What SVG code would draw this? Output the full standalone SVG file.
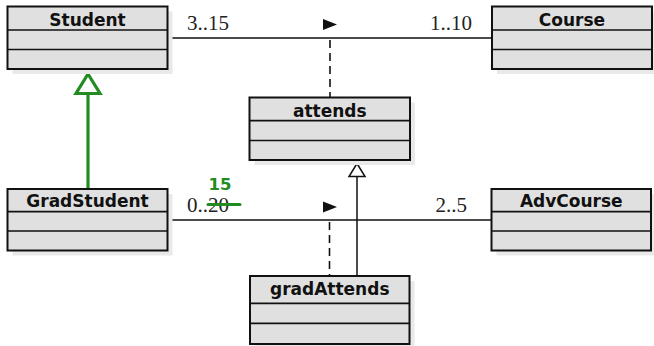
<svg xmlns="http://www.w3.org/2000/svg" width="654" height="346" viewBox="0 0 654 346">
<style>
.shadow{fill:#e9e9e9;stroke:none}
.box{fill:#e0e0e0;stroke:#111;stroke-width:2}
.div{stroke:#111;stroke-width:1.7}
.name{font-family:"DejaVu Sans",sans-serif;font-weight:bold;font-size:17px;text-anchor:middle;fill:#111}
.mult{font-family:"Liberation Serif","DejaVu Serif",serif;font-size:21px;fill:#222}
.line{stroke:#111;stroke-width:1.5;fill:none}
.dash{stroke:#111;stroke-width:1.6;fill:none;stroke-dasharray:8 5}
</style>
<g id="connectors">
  <line class="line" x1="167.5" y1="38" x2="492" y2="38"/>
  <line class="dash" x1="330" y1="40" x2="330" y2="97.5"/>
  <polygon points="323,19 337,24.5 323,30" fill="#111"/>
  <text class="mult" x="187" y="29.5">3..15</text>
  <text class="mult" x="472" y="29.5" text-anchor="end">1..10</text>

  <line class="line" x1="167.5" y1="220" x2="491.5" y2="220"/>
  <line class="dash" x1="329.5" y1="222" x2="329.5" y2="276"/>
  <polygon points="323,201.5 337,207 323,212.5" fill="#111"/>
  <text class="mult" x="187" y="211.5">0..20</text>
  <text class="mult" x="467" y="211.5" text-anchor="end">2..5</text>
  <line x1="208" y1="204.5" x2="240" y2="204.5" stroke="#228b22" stroke-width="3" stroke-linecap="round"/>
  <text x="220" y="190" font-family="DejaVu Sans,sans-serif" font-weight="bold" font-size="16.5" fill="#228b22" text-anchor="middle">15</text>

  <line class="line" x1="357" y1="276" x2="357" y2="176.5"/>
  <polygon points="357,163.5 365,176.5 349,176.5" fill="#fff" stroke="#111" stroke-width="1.5"/>

  <line x1="88" y1="189" x2="88" y2="93.5" stroke="#228b22" stroke-width="3.2"/>
  <polygon points="88,74 100,93.5 76,93.5" fill="#fff" stroke="#228b22" stroke-width="3.2" stroke-linejoin="miter"/>
</g>
<g id="Student">
  <rect class="shadow" x="12.5" y="11.5" width="160" height="62.5"/>
  <rect class="box" x="7.5" y="6.5" width="160" height="62.5"/>
  <line class="div" x1="7.5" y1="30" x2="167.5" y2="30"/>
  <line class="div" x1="7.5" y1="49.5" x2="167.5" y2="49.5"/>
  <text class="name" x="87.5" y="25.5">Student</text>
</g>
<g id="Course">
  <rect class="shadow" x="497" y="11.5" width="160" height="62.5"/>
  <rect class="box" x="492" y="6.5" width="160" height="62.5"/>
  <line class="div" x1="492" y1="30" x2="652" y2="30"/>
  <line class="div" x1="492" y1="49.5" x2="652" y2="49.5"/>
  <text class="name" x="572" y="25.5">Course</text>
</g>
<g id="attends">
  <rect class="shadow" x="254.5" y="102.5" width="160.5" height="62.5"/>
  <rect class="box" x="249.5" y="97.5" width="160.5" height="62.5"/>
  <line class="div" x1="249.5" y1="120.7" x2="410" y2="120.7"/>
  <line class="div" x1="249.5" y1="140.5" x2="410" y2="140.5"/>
  <text class="name" x="329.75" y="116.5">attends</text>
</g>
<g id="GradStudent">
  <rect class="shadow" x="12.5" y="194" width="160" height="61.5"/>
  <rect class="box" x="7.5" y="189" width="160" height="61.5"/>
  <line class="div" x1="7.5" y1="211.7" x2="167.5" y2="211.7"/>
  <line class="div" x1="7.5" y1="231" x2="167.5" y2="231"/>
  <text class="name" x="87.5" y="206.7">GradStudent</text>
</g>
<g id="AdvCourse">
  <rect class="shadow" x="496.5" y="194" width="159.5" height="61.5"/>
  <rect class="box" x="491.5" y="189" width="159.5" height="61.5"/>
  <line class="div" x1="491.5" y1="211.7" x2="651" y2="211.7"/>
  <line class="div" x1="491.5" y1="231" x2="651" y2="231"/>
  <text class="name" x="571.25" y="206.7">AdvCourse</text>
</g>
<g id="gradAttends">
  <rect class="shadow" x="255" y="281" width="159.5" height="68"/>
  <rect class="box" x="250" y="276" width="159.5" height="68"/>
  <line class="div" x1="250" y1="303.3" x2="409.5" y2="303.3"/>
  <line class="div" x1="250" y1="323.3" x2="409.5" y2="323.3"/>
  <text class="name" x="329.75" y="295">gradAttends</text>
</g>
</svg>
